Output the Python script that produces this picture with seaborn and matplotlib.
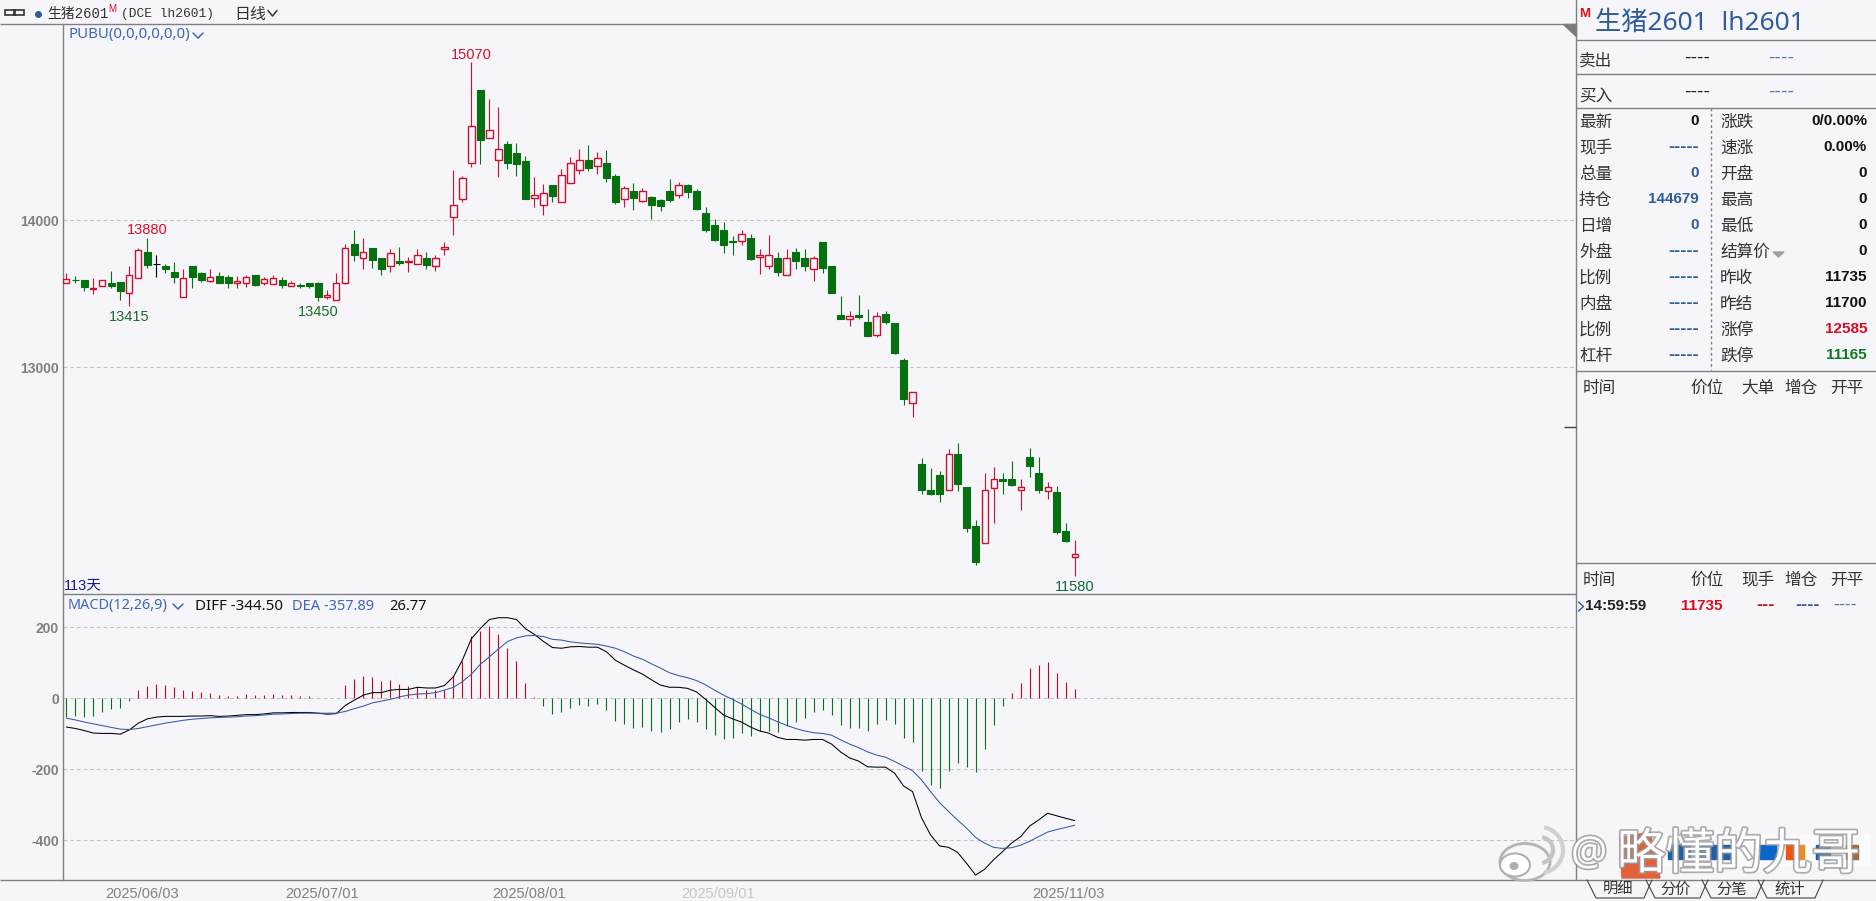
import matplotlib
matplotlib.use("Agg")
import numpy as np
import pandas as pd
import matplotlib.pyplot as plt
import matplotlib.patheffects as pe
from matplotlib.patches import Ellipse, Polygon, Rectangle, Arc
from matplotlib.transforms import ScaledTranslation
import seaborn as sns

# K-line values
opens = [13575,13595,13595,13530,13555,13575,13580,13505,13605,13780,
         13700,13690,13650,13480,13685,13640,13585,13620,13610,13575,
         13575,13630,13575,13565,13595,13555,13560,13575,13570,13480,
         13455,13570,13835,13745,13810,13740,13690,13725,13715,13700,
         13745,13685,13800,14020,14145,14390,14885,14560,14405,14515,
         14455,14400,14150,14100,14235,14120,14250,14340,14410,14370,
         14390,14300,14145,14195,14130,14155,14135,14200,14170,14235,
         14195,14045,13965,13930,13860,13860,13880,13750,13685,13740,
         13630,13785,13745,13670,13850,13690,13355,13330,13355,13310,
         13220,13360,13300,13050,12760,12345,12165,12270,12165,12410,
         12190,11925,11810,12180,12240,12240,12165,12390,12285,12160,
         12155,11890,11710]
highs = [13640,13620,13595,13605,13590,13655,13580,13690,13810,13880,
         13760,13700,13715,13670,13685,13645,13665,13645,13625,13620,
         13625,13630,13615,13630,13610,13585,13575,13575,13580,13525,
         13640,13835,13935,13880,13810,13740,13805,13815,13750,13805,
         13785,13760,13850,14340,14300,15070,14885,14820,14765,14535,
         14525,14435,14290,14245,14235,14345,14425,14485,14510,14465,
         14475,14315,14230,14250,14215,14165,14145,14275,14260,14245,
         14210,14090,14005,13985,13890,13930,13905,13800,13900,13785,
         13800,13810,13800,13755,13850,13690,13485,13385,13490,13395,
         13375,13380,13300,13060,12835,12385,12315,12295,12445,12485,
         12190,11965,12285,12325,12285,12365,12240,12450,12390,12220,
         12195,11945,11830]
lows = [13575,13570,13515,13500,13555,13535,13455,13415,13605,13675,
        13615,13640,13575,13480,13535,13580,13580,13570,13535,13535,
        13545,13555,13560,13565,13535,13550,13535,13535,13450,13465,
        13455,13565,13725,13670,13675,13630,13650,13695,13650,13700,
        13670,13655,13760,13895,14125,14360,14380,14560,14295,14345,
        14300,14140,14090,14035,14125,14120,14250,14310,14335,14310,
        14260,14110,14090,14070,14120,14005,14060,14120,14150,14150,
        14065,13920,13855,13775,13760,13830,13730,13635,13670,13620,
        13630,13665,13655,13585,13640,13505,13330,13280,13330,13210,
        13205,13295,13090,12745,12665,12140,12135,12085,12165,12160,
        11885,11660,11810,11940,12140,12195,12030,12255,12150,12105,
        11865,11815,11580]
closes = [13600,13590,13545,13535,13590,13555,13520,13630,13795,13695,
          13700,13670,13615,13605,13610,13595,13610,13570,13575,13585,
          13610,13560,13600,13605,13560,13570,13550,13555,13480,13490,
          13575,13810,13760,13780,13730,13670,13775,13705,13725,13760,
          13695,13745,13815,14105,14285,14635,14540,14610,14485,14390,
          14380,14140,14170,14180,14165,14305,14390,14410,14355,14420,
          14285,14120,14220,14150,14195,14100,14095,14135,14235,14190,
          14075,13930,13865,13830,13850,13905,13735,13760,13760,13645,
          13740,13725,13685,13740,13675,13505,13330,13350,13340,13210,
          13345,13310,13095,12785,12830,12165,12140,12140,12410,12205,
          11910,11680,12165,12240,12225,12200,12185,12330,12165,12190,
          11885,11820,11735]

# MACD panel
macd_hist = [-53,-50,-53,-50,-38,-30,-27,-7,23,35,
             39,37,32,23,20,18,16,9,6,6,
             11,8,9,12,9,9,6,7,1,1,
             1,37,54,63,60,49,52,40,34,33,
             23,22,23,64,105,176,190,204,181,142,
             105,43,3,-22,-44,-40,-27,-19,-22,-16,
             -33,-64,-72,-84,-81,-92,-95,-86,-67,-58,
             -67,-86,-103,-115,-112,-98,-106,-92,-92,-95,
             -78,-67,-55,-38,-33,-47,-75,-84,-84,-92,
             -72,-61,-72,-112,-123,-204,-244,-252,-204,-182,
             -193,-209,-143,-75,-22,16,43,85,94,102,
             71,46,26.77]
diff = [-81,-85,-91,-98,-99,-99,-101,-89,-70,-58,
        -53,-51,-51,-51,-50,-50,-49,-51,-50,-48,
        -46,-46,-44,-41,-41,-40,-40,-40,-42,-45,
        -43,-20,-5,9,16,16,23,25,25,31,
        29,29,36,61,108,168,197,222,227,227,
        222,196,180,160,143,141,145,146,144,144,
        131,107,93,80,68,52,37,31,31,28,
        18,-3,-25,-47,-58,-67,-81,-92,-98,-110,
        -116,-116,-118,-116,-116,-129,-151,-168,-177,-193,
        -194,-194,-211,-247,-263,-337,-385,-416,-420,-434,
        -465,-498,-482,-455,-432,-408,-390,-360,-343,-324,
        -331,-338,-344.5]
dea = [-56,-61,-67,-72,-77,-82,-87,-88,-85,-80,
       -75,-70,-66,-62,-59,-57,-55,-54,-53,-52,
       -50,-49,-47,-45,-44,-43,-42,-42,-42,-42,
       -42,-37,-29,-22,-13,-8,-3,4,9,12,
       13,16,23,31,47,68,96,117,139,160,
       170,176,177,174,166,164,159,156,154,152,
       147,141,131,119,110,97,85,72,64,58,
       50,38,23,9,-3,-16,-31,-45,-55,-66,
       -76,-85,-92,-97,-99,-104,-117,-129,-139,-151,
       -160,-166,-178,-191,-204,-230,-263,-294,-319,-343,
       -366,-392,-408,-420,-423,-421,-414,-403,-390,-377,
       -370,-364,-357.89]

date_pos = [4, 24, 47, 68, 107]
date_labels = ["2025/06/03", "2025/07/01", "2025/08/01", "2025/09/01", "2025/11/03"]

# price labels on the chart: bar index, value, pixel offset, colour
high_low_marks = [(45, 15070, 7, "#D8102A"), (9, 13880, 8, "#D8102A"),
                  (7, 13415, -11, "#1F6B2A"), (28, 13450, -11, "#1F6B2A"),
                  (112, 11580, -11, "#0F6B3A")]

# quote panel rows
quote_left = [("最新", "0", "k"), ("现手", "-----", "b"), ("总量", "0", "b"), ("持仓", "144679", "b"),
              ("日增", "0", "b"), ("外盘", "-----", "b"), ("比例", "-----", "b"), ("内盘", "-----", "b"),
              ("比例", "-----", "b"), ("杠杆", "-----", "b")]
quote_right = [("涨跌", "0/0.00%", "k"), ("速涨", "0.00%", "k"), ("开盘", "0", "k"), ("最高", "0", "k"),
               ("最低", "0", "k"), ("结算价", "0", "k"), ("昨收", "11735", "k"), ("昨结", "11700", "k"),
               ("涨停", "12585", "r"), ("跌停", "11165", "g")]

W, H = 1876, 901
BG = "#F5F5FA"
RED = "#CC1030"
GREEN = "#05700F"
BLUE = "#3F66B8"
NAVY = "#2F5C9B"
GRID = "#C4C4C8"
LINE = "#808084"
value_colors = {"k": "#111111", "b": NAVY, "r": "#D90F1F", "g": "#0E7A1E"}

sns.set_theme(style="white", rc={"axes.facecolor": BG, "figure.facecolor": BG})
CJK = ["Noto Sans CJK SC", "DejaVu Sans"]
plt.rcParams["font.family"] = ["Liberation Sans", "Noto Sans CJK SC", "DejaVu Sans"]
plt.rcParams["axes.unicode_minus"] = False

df = pd.DataFrame({"open": opens, "high": highs, "low": lows, "close": closes,
                   "hist": macd_hist, "diff": diff, "dea": dea})
df["i"] = np.arange(len(df))

fig = plt.figure(figsize=(W / 100, H / 100), dpi=100)


def px_axes(x0, y0, x1, y1, **kw):
    return fig.add_axes([x0 / W, 1 - y1 / H, (x1 - x0) / W, (y1 - y0) / H], **kw)


LEFT, RIGHT = 62.5, 1576
ax = px_axes(LEFT, 23.5, RIGHT, 594.3)
ax2 = px_axes(LEFT, 594.3, RIGHT, 880)
ui = px_axes(0, 0, W, H, zorder=5)
ui.set_xlim(0, W)
ui.set_ylim(H, 0)
ui.axis("off")
ui.patch.set_alpha(0)

xlim = (-0.43, 167.7)

# K lines
up = df[df["close"] > df["open"]]
down = df[df["close"] < df["open"]]
flat = df[df["close"] == df["open"]]
ax.vlines(up["i"], up["low"], up["high"], color=RED, lw=0.8, zorder=2)
ax.vlines(down["i"], down["low"], down["high"], color=GREEN, lw=0.8, zorder=2)
ax.vlines(flat["i"], flat["low"], flat["high"], color="black", lw=0.8, zorder=2)
ax.bar(up["i"], up["close"] - up["open"], bottom=up["open"], width=0.68,
       facecolor=BG, edgecolor=RED, linewidth=1.0, zorder=3)
ax.bar(down["i"], down["close"] - down["open"], bottom=down["open"], width=0.76,
       facecolor=GREEN, edgecolor=GREEN, linewidth=0.8, zorder=3)
ax.hlines(flat["open"], flat["i"] - 0.38, flat["i"] + 0.38, color="black", lw=0.8, zorder=3)

for idx, val, off, col in high_low_marks:
    ax.annotate(str(val), xy=(idx, val), xytext=(0, off), textcoords="offset pixels",
                ha="center", va="center", fontsize=10.5, color=col, zorder=4)

ax.set_xlim(*xlim)
ax.set_ylim(11459, 15334)
ax.set_yticks([13000, 14000])
ax.set_xticks([])
ax.yaxis.grid(True, color=GRID, lw=0.8, ls=(0, (3.5, 2.5)))
ax.set_axisbelow(True)

# MACD
pos = df[df["hist"] >= 0]
neg = df[df["hist"] < 0]
ax2.vlines(pos["i"], 0, pos["hist"], color="#C00818", lw=0.8, zorder=2)
ax2.vlines(neg["i"], 0, neg["hist"], color="#0A7018", lw=0.8, zorder=2)
sns.lineplot(data=df, x="i", y="diff", color="black", lw=0.75, ax=ax2, legend=False, zorder=3)
sns.lineplot(data=df, x="i", y="dea", color="#3558A8", lw=0.75, ax=ax2, legend=False, zorder=4)
ax2.set_xlabel("")
ax2.set_ylabel("")
ax2.set_xlim(*xlim)
ax2.set_ylim(-512, 293)
ax2.set_yticks([200, 0, -200, -400])
ax2.yaxis.grid(True, color=GRID, lw=0.8, ls=(0, (3.5, 2.5)))
ax2.set_axisbelow(True)
ax2.set_xticks(date_pos)
ax2.set_xticklabels(date_labels, ha="left")

for a in (ax, ax2):
    for name in ("top", "right", "bottom"):
        a.spines[name].set_visible(False)
    a.spines["left"].set_color(LINE)
    a.spines["left"].set_linewidth(1.0)
    a.tick_params(axis="y", length=0, pad=2.5, labelsize=10, labelcolor="#808080")
    for lab in a.get_yticklabels():
        lab.set_fontweight("bold")
ax2.tick_params(axis="x", length=0, pad=5, labelsize=10.5, labelcolor="#808080")
shift = ScaledTranslation(3 / 100, 0, fig.dpi_scale_trans)
for lab in ax2.get_xticklabels():
    lab.set_transform(lab.get_transform() + shift)
ax2.get_xticklabels()[3].set_alpha(0.4)


def hline(y, x0, x1, color=LINE, lw=1.0):
    ui.plot([x0, x1], [y, y], color=color, lw=lw, solid_capstyle="butt")


def vline(x, y0, y1, color=LINE, lw=1.0, **kw):
    ui.plot([x, x], [y0, y1], color=color, lw=lw, **kw)


def chevron(x0, x1, y0, y1, color):
    ui.plot([x0, (x0 + x1) / 2, x1], [y0, y1, y0], color=color, lw=1.1)


def txt(x, y, s, size=10, color="#333333", ha="left", weight="normal", family=None, **kw):
    return ui.text(x, y, s, fontsize=size, color=color, ha=ha, va="center", weight=weight,
                   family=family or plt.rcParams["font.family"], **kw)


# frame lines
hline(23.5, 0, 1576)
hline(594.3, 62.5, 1576)
hline(880, 0, W)
vline(1576, 0, 880)
hline(39.5, 1576, W)
hline(73.5, 1576, W)
hline(107.5, 1576, W)
hline(370.5, 1576, W)
hline(562.5, 1576, W)
hline(427, 1564, 1576, color="#444444")
ui.add_patch(Polygon([[1563, 23.5], [1576, 23.5], [1576, 36]], color="#7A7A7E"))

# header
ui.add_patch(Rectangle((5, 10), 10, 4.5, fill=False, ec="#333333", lw=1.2))
ui.add_patch(Rectangle((14, 10), 10, 4.5, fill=False, ec="#333333", lw=1.2))
ui.plot([37.5], [13.5], "o", ms=4, color="#2F5C9B")
MONO = ["Liberation Mono", "Noto Sans CJK SC"]
txt(47, 14, "生猪2601", 10, family=MONO)
txt(108, 9, "M", 7, color="#D8102A")
txt(121, 14, "(DCE lh2601)", 9.3, family=MONO)
txt(234, 14.5, "日线", 11.5, family=CJK)
chevron(268, 277, 10.5, 16, "#333333")

txt(68, 34.5, "PUBU(0,0,0,0,0,0)", 10.8, color=BLUE, family=["Noto Sans"])
chevron(193, 203, 33, 38, BLUE)
txt(63.5, 585, "113天", 10.5, color="#1A1A8C")
txt(68, 606, "MACD(12,26,9)", 10.4, color=BLUE, family=["Noto Sans"])
chevron(173, 183, 604, 609, BLUE)
txt(195, 606, "DIFF -344.50", 10.9, color="#111111", family=["Noto Sans"])
txt(292, 606, "DEA -357.89", 10.5, color=BLUE, family=["Noto Sans"])
txt(389, 606, "26.77", 10.6, color="#111111", family=["Noto Sans"])

# quote panel
txt(1579, 14, "M", 9.5, color="#E01010", weight="bold")
txt(1595, 23.5, "生猪2601  lh2601", 18.9, color=NAVY, family=["Noto Sans", "Noto Sans CJK SC"])
txt(1579, 61, "卖出", 12, family=CJK)
txt(1579, 97, "买入", 12, family=CJK)
for y in (58, 92):
    txt(1710, y, "----", 14, color="#222222", ha="right")
    txt(1794, y, "----", 14, color="#5577AA", ha="right")

row_y = [121, 147, 173, 199, 225, 251, 277, 303, 329, 355]
for y, (lab, val, col) in zip(row_y, quote_left):
    txt(1579, y + 1.5, lab, 12, family=CJK)
    # dashes sit wider than the digits in the original
    txt(1699, y, val, 13 if val.startswith("-") else 11, color=value_colors[col], ha="right", weight="bold")
for y, (lab, val, col) in zip(row_y, quote_right):
    txt(1720, y + 1.5, lab, 12, family=CJK)
    txt(1867, y, val, 11, color=value_colors[col], ha="right", weight="bold")
ui.add_patch(Polygon([[1773, 252], [1784, 252], [1778.5, 257]], color="#A0A0A4"))
vline(1710.5, 107.5, 370, color="#808084", lw=1.0, ls=(0, (2, 2)))

for y, heads in ((388, ["时间", "价位", "大单", "增仓", "开平"]), (580, ["时间", "价位", "现手", "增仓", "开平"])):
    for x, lab in zip((1583, 1690, 1741, 1784, 1830), heads):
        txt(x, y, lab, 12, family=CJK)
ui.plot([1578.5, 1583.5, 1578.5], [602, 606.5, 611], color=NAVY, lw=1.0)
txt(1585, 606, "14:59:59", 11, color="#222222", weight="bold")
txt(1723, 606, "11735", 11, color="#D90F1F", ha="right", weight="bold")
txt(1775, 605, "---", 13, color="#C01010", ha="right", weight="bold")
txt(1820, 605, "----", 13, color=NAVY, ha="right", weight="bold")
txt(1857, 605, "----", 13, color="#5577AA", ha="right")

# tabs at the bottom
for x0, x1, lab in [(1587, 1646, "明细"), (1646, 1702, "分价"), (1702, 1758, "分笔"), (1758, 1817, "统计")]:
    ui.plot([x0, x0 + 9, x1 - 2, x1 + 6], [880, 898, 898, 880], color="#444444", lw=0.8)
    txt((x0 + x1) / 2 + 2, 889.5, lab, 11, ha="center", family=CJK)

# watermark
ui.add_patch(Rectangle((1620, 835), 250, 31, color="#FBFBFD", zorder=6))
ui.add_patch(Polygon([[1620, 838], [1650, 832], [1660, 878], [1622, 878]], color="#E2603A", zorder=6))
for x0, w, col in [(1668, 22, "#1F5FA8"), (1700, 30, "#1F5FA8"), (1760, 16, "#0B66C8"),
                   (1786, 10, "#F0540F"), (1796, 8, "#F08A20"), (1816, 14, "#1F5FA8"), (1846, 12, "#A8683A")]:
    ui.add_patch(Rectangle((x0, 845), w, 14, color=col, zorder=6))

wm = [pe.withStroke(linewidth=2.5, foreground="#9A9A9E", alpha=0.8)]
ui.text(1617, 855, "略懂的九哥", fontsize=35, color="white", ha="left", va="center", family=CJK,
        path_effects=wm, zorder=7)
ui.text(1571, 855, "@", fontsize=29, color="white", ha="left", va="center", family=["Noto Sans"],
        path_effects=wm, zorder=7)
ui.add_patch(Ellipse((1525, 862), 50, 37, fc="#F7F7F9", ec="#B4B4B8", lw=2, zorder=7))
ui.add_patch(Ellipse((1515, 865), 30, 23, fc="#FFFFFF", ec="#B0B0B4", lw=1.5, zorder=7))
ui.add_patch(Ellipse((1514, 866), 9, 8, fc="#B0B0B4", ec="none", zorder=7))
ui.add_patch(Arc((1540, 850), 26, 26, theta1=-80, theta2=80, ec="#C4C4C8", lw=3, zorder=7))
ui.add_patch(Arc((1540, 850), 46, 46, theta1=-80, theta2=80, ec="#D0D0D4", lw=3, zorder=7))

fig.savefig("out.png", dpi=100, facecolor=BG)
